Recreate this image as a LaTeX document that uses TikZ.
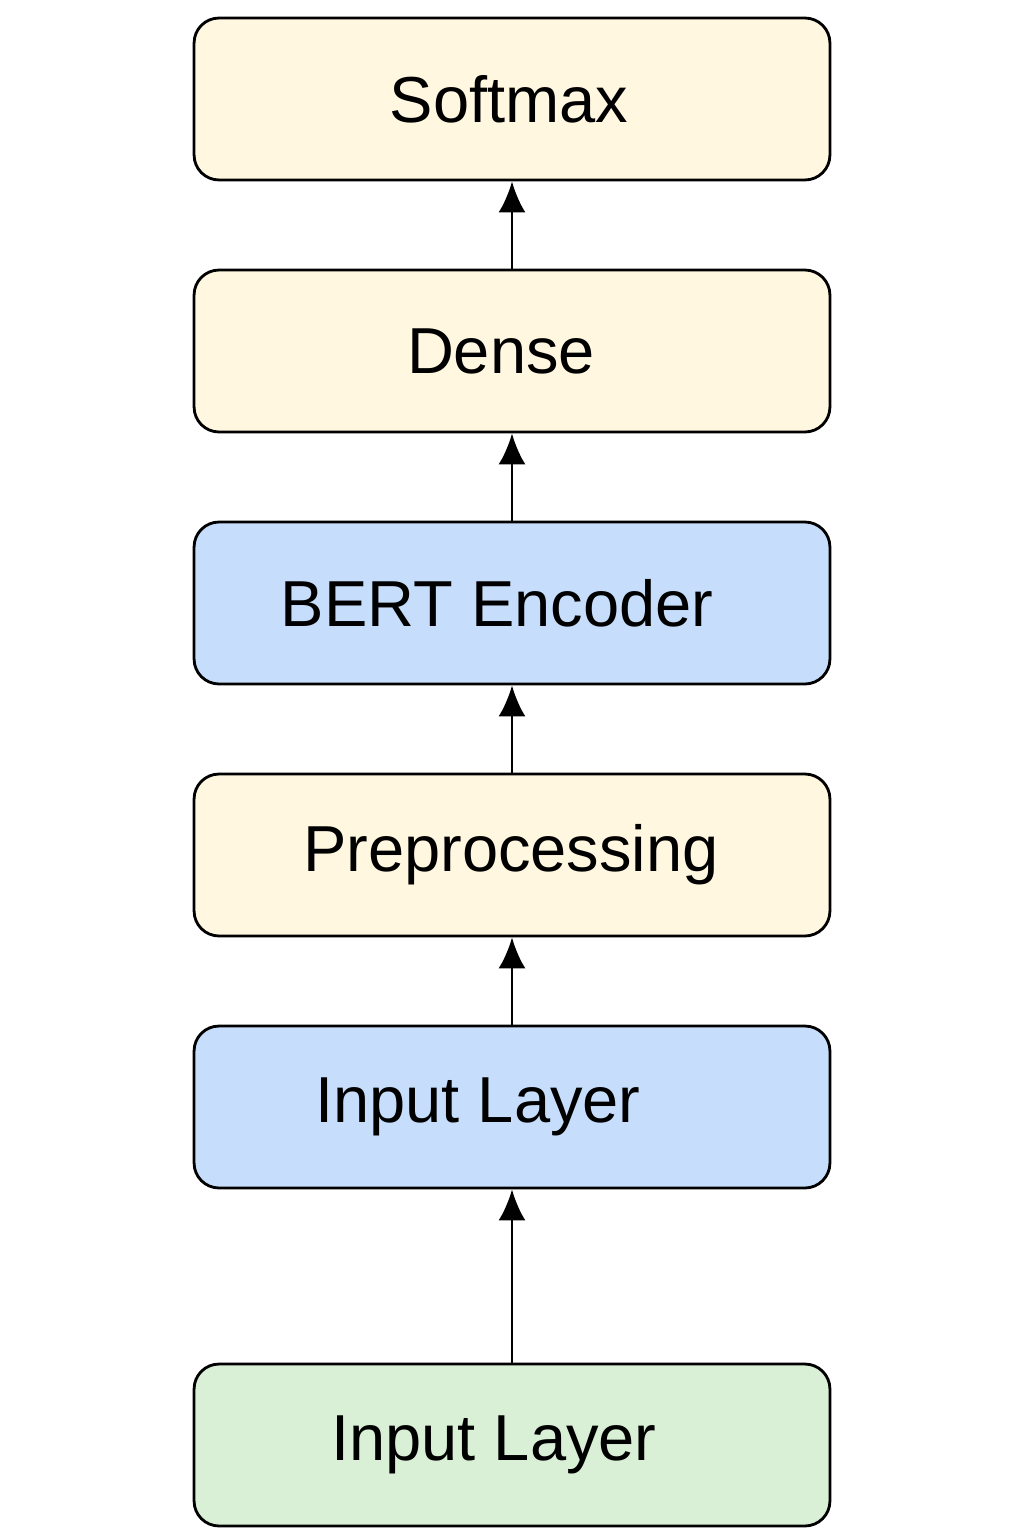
\documentclass[tikz,border=0pt]{standalone}
\usepackage{fontspec}
\setmainfont{Liberation Sans}
\usetikzlibrary{arrows.meta}
\definecolor{layeryellow}{HTML}{FFF7E0}
\definecolor{layerblue}{HTML}{C6DEFB}
\definecolor{layergreen}{HTML}{D9EFD6}
% text a little left of the box centre
\newcommand{\leftby}[1]{\kern-#1\relax}
\tikzset{
  layer/.style={draw=black, line width=1.6pt, rounded corners=0.5cm,
    minimum width=12.72cm, minimum height=3.24cm, inner sep=0pt,
    font=\fontsize{37}{44}\selectfont},
  flow/.style={-{Latex[length=0.62cm,width=0.54cm]}, line width=1.7pt}
}
\begin{document}
\begin{tikzpicture}[x=0.02cm,y=-0.02cm]
  \useasboundingbox (0,0) rectangle (1024,1536);
  \node[layer, fill=layeryellow] (softmax) at (512,99) {\leftby{0.12cm}Softmax};
  \node[layer, fill=layeryellow] (dense) at (512,351) {\leftby{0.44cm}Dense};
  \node[layer, fill=layerblue] (bert) at (512,603) {\leftby{0.6cm}BERT Encoder};
  \node[layer, fill=layeryellow] (prep) at (512,855) {\leftby{0.04cm}Preprocessing};
  \node[layer, fill=layerblue] (inlayer) at (512,1107) {\leftby{1.36cm}Input Layer};
  \node[layer, fill=layergreen] (input) at (512,1445) {\leftby{0.72cm}Input Layer};
  \draw[flow] (dense.north) -- (softmax.south);
  \draw[flow] (bert.north) -- (dense.south);
  \draw[flow] (prep.north) -- (bert.south);
  \draw[flow] (inlayer.north) -- (prep.south);
  \draw[flow] (input.north) -- (inlayer.south);
\end{tikzpicture}
\end{document}
